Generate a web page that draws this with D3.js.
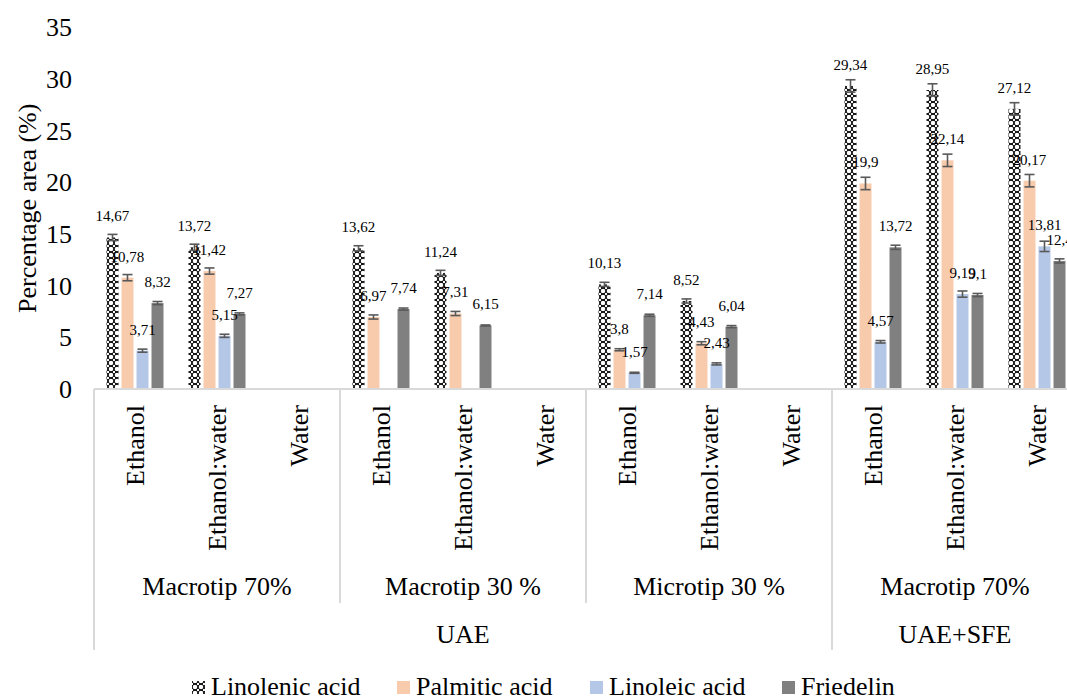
<!DOCTYPE html>
<html>
<head>
<meta charset="utf-8">
<script src="https://cdn.jsdelivr.net/npm/d3@7"></script>
<style>
  html, body { margin: 0; padding: 0; background: #fff; }
  svg { display: block; font-family: "Liberation Serif", "Times New Roman", serif; }
</style>
</head>
<body>
<svg id="chart" width="1067" height="697"></svg>
<script>
// Extraction solvents (one bar cluster each), grouped by device and method
const solvents = ["Ethanol", "Ethanol:water", "Water",
                  "Ethanol", "Ethanol:water", "Water",
                  "Ethanol", "Ethanol:water", "Water",
                  "Ethanol", "Ethanol:water", "Water"];
const devices = ["Macrotip 70%", "Macrotip 30 %", "Microtip 30 %", "Macrotip 70%"];
const methods = ["UAE", "UAE+SFE"];
const methodSpan = [3, 1]; // number of device groups under each method

const seriesNames = ["Linolenic acid", "Palmitic acid", "Linoleic acid", "Friedelin"];

// Percentage area per compound (null = not detected)
const linolenic = [14.67, 13.72, null, 13.62, 11.24, null, 10.13, 8.52, null, 29.34, 28.95, 27.12];
const palmitic  = [10.78, 11.42, null, 6.97, 7.31, null, 3.8, 4.43, null, 19.9, 22.14, 20.17];
const linoleic  = [3.71, 5.15, null, null, null, null, 1.57, 2.43, null, 4.57, 9.19, 13.81];
const friedelin = [8.32, 7.27, null, 7.74, 6.15, null, 7.14, 6.04, null, 13.72, 9.1, 12.4];

// Standard deviations
const linolenicErr = [0.3, 0.3, null, 0.25, 0.25, null, 0.2, 0.2, null, 0.6, 0.6, 0.6];
const palmiticErr  = [0.3, 0.3, null, 0.2, 0.2, null, 0.1, 0.15, null, 0.6, 0.6, 0.6];
const linoleicErr  = [0.15, 0.15, null, null, null, null, 0.05, 0.1, null, 0.12, 0.3, 0.5];
const friedelinErr = [0.15, 0.1, null, 0.1, 0.05, null, 0.1, 0.1, null, 0.2, 0.15, 0.2];

const yTicks = [0, 5, 10, 15, 20, 25, 30, 35];

const values = [linolenic, palmitic, linoleic, friedelin];
const errors = [linolenicErr, palmiticErr, linoleicErr, friedelinErr];
const fills = ["url(#checker)", "#F8CBAD", "#B4C7E7", "#808080"];

const svg = d3.select("#chart");

// Checkered pattern for linolenic acid
const defs = svg.append("defs");
const pat = defs.append("pattern")
  .attr("id", "checker")
  .attr("patternUnits", "userSpaceOnUse")
  .attr("width", 6).attr("height", 6);
pat.append("rect").attr("width", 6).attr("height", 6).attr("fill", "#000");
pat.append("circle").attr("cx", 3).attr("cy", 3).attr("r", 2.3).attr("fill", "#fff");
pat.append("circle").attr("cx", 0).attr("cy", 0).attr("r", 1.2).attr("fill", "#fff");
pat.append("circle").attr("cx", 6).attr("cy", 0).attr("r", 1.2).attr("fill", "#fff");
pat.append("circle").attr("cx", 0).attr("cy", 6).attr("r", 1.2).attr("fill", "#fff");
pat.append("circle").attr("cx", 6).attr("cy", 6).attr("r", 1.2).attr("fill", "#fff");

const plotLeft = 94, plotRight = 1078, plotTop = 27.5, plotBottom = 389;

const x0 = d3.scaleBand()
  .domain(d3.range(solvents.length))
  .range([plotLeft, plotRight])
  .padding(0);

const x1 = d3.scaleBand()
  .domain(d3.range(seriesNames.length))
  .range([0, x0.bandwidth()])
  .paddingInner(0.2)
  .paddingOuter(0.833);

const y = d3.scaleLinear().domain([0, 35]).range([plotBottom, plotTop]);

// Y axis: labels only
const yAxis = svg.append("g")
  .attr("transform", `translate(${plotLeft},0)`)
  .call(d3.axisLeft(y).tickValues(yTicks).tickSize(0).tickPadding(22));
yAxis.select(".domain").remove();
yAxis.selectAll("text")
  .attr("font-family", "Liberation Serif, Times New Roman, serif")
  .attr("font-size", 26)
  .attr("fill", "#000");

svg.append("text")
  .attr("transform", `translate(27,${(plotTop + plotBottom) / 2}) rotate(-90)`)
  .attr("text-anchor", "middle")
  .attr("dominant-baseline", "central")
  .attr("font-size", 26)
  .text("Percentage area (%)");

// Bars
const fmt = v => String(v).replace(".", ",");
const barData = [];
values.forEach((arr, s) => arr.forEach((v, c) => {
  if (v !== null) barData.push({ s, c, v, e: errors[s][c] });
}));

const bars = svg.append("g");
bars.selectAll("rect")
  .data(barData)
  .join("rect")
  .attr("x", d => x0(d.c) + x1(d.s))
  .attr("y", d => y(d.v))
  .attr("width", x1.bandwidth())
  .attr("height", d => y(0) - y(d.v))
  .attr("fill", d => fills[d.s]);

// Error bars
const eb = svg.append("g").attr("stroke", "#595959").attr("stroke-width", 1.6).attr("fill", "none");
barData.forEach(d => {
  if (d.e == null) return;
  const cx = x0(d.c) + x1(d.s) + x1.bandwidth() / 2;
  const top = y(d.v + d.e), bot = y(d.v - d.e);
  eb.append("line").attr("x1", cx).attr("x2", cx).attr("y1", top).attr("y2", bot);
  eb.append("line").attr("x1", cx - 5).attr("x2", cx + 5).attr("y1", top).attr("y2", top);
  eb.append("line").attr("x1", cx - 5).attr("x2", cx + 5).attr("y1", bot).attr("y2", bot);
});

// Value labels
svg.append("g").selectAll("text")
  .data(barData)
  .join("text")
  .attr("x", d => x0(d.c) + x1(d.s) + x1.bandwidth() / 2)
  .attr("y", d => y(d.v) - 16)
  .attr("text-anchor", "middle")
  .attr("font-size", 15)
  .attr("fill", "#000")
  .text(d => fmt(d.v));

// Category axis lines
const axisColor = "#d9d9d9";
const ax = svg.append("g").attr("stroke", axisColor).attr("stroke-width", 2);
ax.append("line").attr("x1", plotLeft).attr("x2", plotRight).attr("y1", plotBottom).attr("y2", plotBottom);

const row2Bottom = 603, row3Bottom = 650;
// Device group boundaries
const deviceEdges = d3.range(devices.length + 1).map(i => x0(i * 3) !== undefined ? x0(i * 3) : plotRight);
let methodEdges = [0];
methodSpan.forEach((n, i) => methodEdges.push(methodEdges[i] + n));
deviceEdges.forEach((xe, i) => {
  const isMethodEdge = methodEdges.includes(i);
  ax.append("line")
    .attr("x1", xe).attr("x2", xe)
    .attr("y1", plotBottom).attr("y2", isMethodEdge ? row3Bottom : row2Bottom);
});

// Solvent labels (rotated)
svg.append("g").selectAll("text")
  .data(solvents)
  .join("text")
  .attr("transform", (d, i) => `translate(${x0(i) + x0.bandwidth() / 2},405) rotate(-90)`)
  .attr("text-anchor", "end")
  .attr("dominant-baseline", "central")
  .attr("font-size", 26)
  .text(d => d);

// Device labels
svg.append("g").selectAll("text")
  .data(devices)
  .join("text")
  .attr("x", (d, i) => (deviceEdges[i] + deviceEdges[i + 1]) / 2)
  .attr("y", 595)
  .attr("text-anchor", "middle")
  .attr("font-size", 26)
  .text(d => d);

// Method labels
svg.append("g").selectAll("text")
  .data(methods)
  .join("text")
  .attr("x", (d, i) => (deviceEdges[methodEdges[i]] + deviceEdges[methodEdges[i + 1]]) / 2)
  .attr("y", 643)
  .attr("text-anchor", "middle")
  .attr("font-size", 26)
  .text(d => d);

// Legend
const legendX = [192, 397, 590, 782];
const lg = svg.append("g");
seriesNames.forEach((name, i) => {
  lg.append("rect")
    .attr("x", legendX[i]).attr("y", 681)
    .attr("width", 13).attr("height", 13)
    .attr("fill", fills[i]);
  lg.append("text")
    .attr("x", legendX[i] + 19).attr("y", 695)
    .attr("font-size", 26)
    .text(name);
});
</script>
</body>
</html>
